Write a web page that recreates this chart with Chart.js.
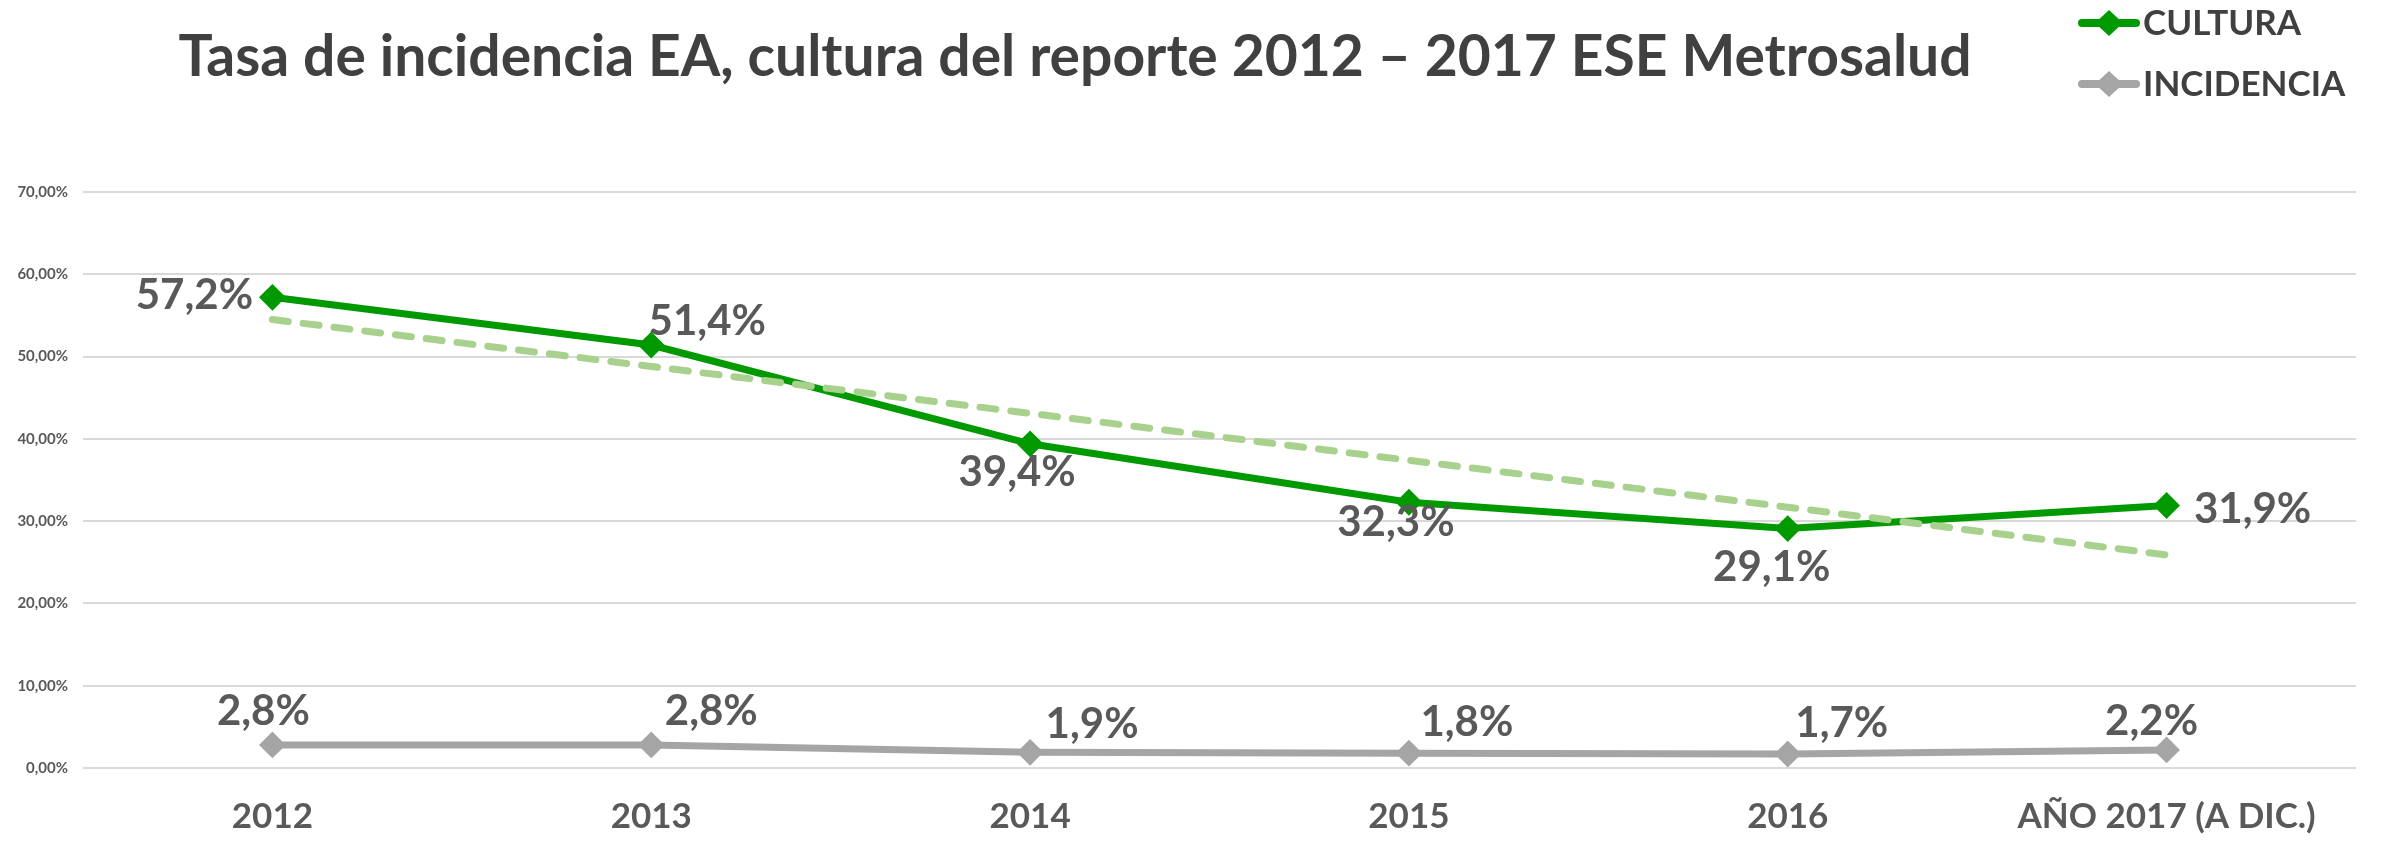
<!DOCTYPE html>
<html lang="es">
<head>
<meta charset="utf-8">
<title>Tasa de incidencia EA, cultura del reporte 2012 – 2017 ESE Metrosalud</title>
<script src="https://cdn.jsdelivr.net/npm/chart.js@4.4.1/dist/chart.umd.min.js"></script>
<style>
  html, body { margin: 0; padding: 0; background: #fff; }
  #wrap { width: 2381px; height: 842px; }
</style>
</head>
<body>
<div id="wrap"><canvas id="chart" width="2381" height="842"></canvas></div>
<script>
// data
const years = ["2012", "2013", "2014", "2015", "2016", "AÑO 2017 (A DIC.)"]
const cultura = [57.2, 51.4, 39.4, 32.3, 29.1, 31.9]
const incidencia = [2.8, 2.8, 1.9, 1.8, 1.7, 2.2]
const culturaTrend = [54.5, 48.8, 43.1, 37.4, 31.7, 25.9]
const yTicks = [0, 10, 20, 30, 40, 50, 60, 70]

const titleText = "Tasa de incidencia EA, cultura del reporte 2012 – 2017 ESE Metrosalud"

// where each value label sits, relative to its point (centre x, baseline y)
const culturaLabelPos = [[-78, 12], [56, -10], [-13, 42], [-13, 34], [-16, 52], [86, 17]]
const incidenciaLabelPos = [[-9, -20], [60, -20], [62, -14], [58, -17], [54, -17], [-15, -15]]

const FONT = "Lato, 'Open Sans', sans-serif"
const GREEN = "#009900"
const GRAY = "#A5A5A5"
const TREND = "#A9D18E"

const fmtPct = v => v.toFixed(1).replace(".", ",") + "%"

const pointLabels = {
  id: "pointLabels",
  afterDatasetsDraw(chart) {
    const ctx = chart.ctx
    ctx.save()
    ctx.font = `bold 42px ${FONT}`
    ctx.fillStyle = "#595959"
    ctx.textAlign = "center"
    ctx.textBaseline = "alphabetic"
    const sets = [[0, culturaLabelPos], [1, incidenciaLabelPos]]
    sets.forEach(([di, pos]) => {
      const ds = chart.data.datasets[di]
      chart.getDatasetMeta(di).data.forEach((pt, i) => {
        ctx.fillText(fmtPct(ds.data[i]), pt.x + pos[i][0], pt.y + pos[i][1])
      })
    })
    ctx.restore()
  }
}

// title + legend drawn by hand, legend stacked in the top right corner
const headerPlugin = {
  id: "header",
  afterDraw(chart) {
    const ctx = chart.ctx
    ctx.save()
    ctx.fillStyle = "#404040"
    ctx.font = `bold 57px ${FONT}`
    ctx.textAlign = "center"
    ctx.textBaseline = "alphabetic"
    ctx.fillText(titleText, 1075, 76)

    const items = [
      { text: "CULTURA", color: GREEN, y: 23 },
      { text: "INCIDENCIA", color: GRAY, y: 84 }
    ]
    items.forEach(it => {
      ctx.strokeStyle = it.color
      ctx.fillStyle = it.color
      ctx.lineWidth = 8
      ctx.lineCap = "round"
      ctx.beginPath()
      ctx.moveTo(2082, it.y)
      ctx.lineTo(2136, it.y)
      ctx.stroke()
      ctx.beginPath()
      ctx.moveTo(2109, it.y - 13)
      ctx.lineTo(2123, it.y)
      ctx.lineTo(2109, it.y + 13)
      ctx.lineTo(2095, it.y)
      ctx.closePath()
      ctx.fill()
      ctx.fillStyle = "#404040"
      ctx.font = `bold 35px ${FONT}`
      ctx.textAlign = "left"
      ctx.fillText(it.text, 2143, it.y + 12)
    })
    ctx.restore()
  }
}

const ctx = document.getElementById("chart").getContext("2d")

new Chart(ctx, {
  type: "line",
  data: {
    labels: years,
    datasets: [
      {
        label: "CULTURA",
        data: cultura,
        borderColor: GREEN,
        backgroundColor: GREEN,
        borderWidth: 7,
        pointStyle: "rectRot",
        pointRadius: 12,
        pointBorderWidth: 2,
        tension: 0,
        order: 1
      },
      {
        label: "INCIDENCIA",
        data: incidencia,
        borderColor: GRAY,
        backgroundColor: GRAY,
        borderWidth: 7,
        pointStyle: "rectRot",
        pointRadius: 12,
        pointBorderWidth: 2,
        tension: 0,
        order: 2
      },
      {
        label: "Lineal (CULTURA)",
        data: culturaTrend,
        borderColor: TREND,
        borderWidth: 7,
        borderDash: [16, 15],
        borderCapStyle: "round",
        pointRadius: 0,
        tension: 0,
        order: 0
      }
    ]
  },
  options: {
    responsive: false,
    animation: false,
    events: [],
    layout: { padding: { top: 192, right: 25, left: 0, bottom: 0 } },
    plugins: {
      legend: { display: false },
      title: { display: false },
      tooltip: { enabled: false }
    },
    scales: {
      x: {
        offset: true,
        grid: { display: false, drawTicks: false },
        border: { display: false },
        ticks: {
          color: "#595959",
          font: { family: FONT, size: 35, weight: "bold" },
          padding: 28,
          maxRotation: 0,
          autoSkip: false
        },
        afterFit: axis => { axis.height = 74 }
      },
      y: {
        min: 0,
        max: 70,
        afterBuildTicks: axis => { axis.ticks = yTicks.map(v => ({ value: v })) },
        grid: { color: "#D9D9D9", lineWidth: 2, drawTicks: false },
        border: { display: false },
        ticks: {
          color: "#595959",
          font: { family: FONT, size: 15, weight: "bold" },
          padding: 15,
          callback: v => v.toFixed(2).replace(".", ",") + "%"
        },
        afterFit: axis => { axis.width = 83 }
      }
    }
  },
  plugins: [pointLabels, headerPlugin]
})
</script>
</body>
</html>
